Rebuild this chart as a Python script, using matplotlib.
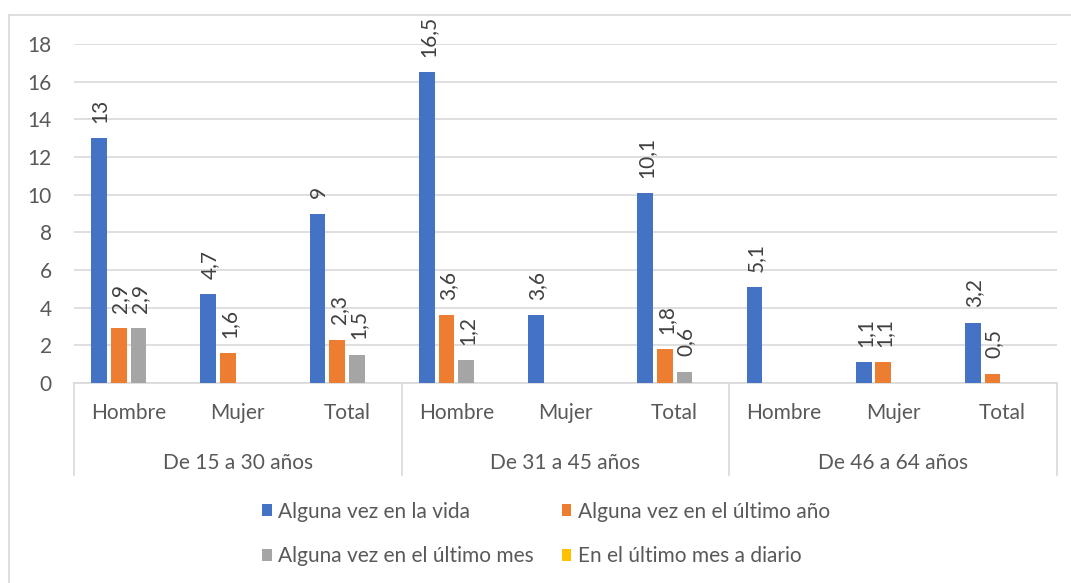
import matplotlib.pyplot as plt
import matplotlib.transforms as mtransforms
from matplotlib.lines import Line2D
import numpy as np

plt.rcParams['font.family'] = ['Lato', 'DejaVu Sans']

# data
categorias = ['Hombre', 'Mujer', 'Total'] * 3
grupos = ['De 15 a 30 años', 'De 31 a 45 años', 'De 46 a 64 años']
series = ['Alguna vez en la vida', 'Alguna vez en el último año',
          'Alguna vez en el último mes', 'En el último mes a diario']
vida = [13, 4.7, 9, 16.5, 3.6, 10.1, 5.1, 1.1, 3.2]
ultimo_anio = [2.9, 1.6, 2.3, 3.6, np.nan, 1.8, np.nan, 1.1, 0.5]
ultimo_mes = [2.9, np.nan, 1.5, 1.2, np.nan, 0.6, np.nan, np.nan, np.nan]
diario = [np.nan] * 9
colores = ['#4472C4', '#ED7D31', '#A5A5A5', '#FFC000']

W, H = 1071, 583
FS = 15
fig = plt.figure(figsize=(W / 100, H / 100), dpi=100)
ax = fig.add_axes([74 / W, 1 - 383 / H, (1057 - 74) / W, (383 - 44) / H])

x = np.arange(len(categorias))
slot, ancho = 0.18, 0.145
handles = []
for i, (nombre, vals, col) in enumerate(zip(series, [vida, ultimo_anio, ultimo_mes, diario], colores)):
    pos = x + (i - 1.5) * slot
    b = ax.bar(pos, vals, width=ancho, color=col, label=nombre, zorder=3)
    handles.append(b)
    for xp, v in zip(pos, vals):
        if np.isnan(v):
            continue
        txt = ('%g' % v).replace('.', ',')
        ax.annotate(txt, (xp, v), xytext=(1, 11), textcoords='offset points',
                    rotation=90, ha='center', va='bottom', fontsize=FS,
                    color='#404040', annotation_clip=False)

ax.set_xlim(-0.5, 8.5)
ax.set_ylim(0, 18)
ax.set_yticks(range(0, 19, 2))
ax.tick_params(axis='y', length=0, pad=16, labelsize=FS, labelcolor='#595959')
ax.set_xticks([])
ax.grid(axis='y', color='#d9d9d9', linewidth=1.2, zorder=0)
for s in ['top', 'right', 'left']:
    ax.spines[s].set_visible(False)
ax.spines['bottom'].set_color('#d9d9d9')
ax.spines['bottom'].set_linewidth(1.2)

# multi-level category axis
trans = mtransforms.blended_transform_factory(ax.transData, ax.transAxes)
h_ax = 383 - 44
for xi, cat in zip(x, categorias):
    ax.text(xi, -30 / h_ax, cat, transform=trans, ha='center', va='center',
            fontsize=FS, color='#595959')
for g, nombre in enumerate(grupos):
    ax.text(3 * g + 1, -80 / h_ax, nombre, transform=trans, ha='center',
            va='center', fontsize=FS, color='#595959')
for xs in [-0.5, 2.5, 5.5, 8.5]:
    ax.add_line(Line2D([xs, xs], [0, -92 / h_ax], transform=trans,
                       color='#d9d9d9', linewidth=1.2, clip_on=False))

# legend (row order as in the original)
orden = [0, 2, 1, 3]
fig.legend([handles[k] for k in orden], [series[k] for k in orden], ncol=2,
           loc='center', bbox_to_anchor=(546 / W, 1 - 534 / H), frameon=False,
           fontsize=FS, labelcolor='#595959', handlelength=0.45, handleheight=0.45,
           handletextpad=0.3, columnspacing=1.35, labelspacing=1.2)

# chart border
fig.add_artist(Line2D([9 / W, 9 / W], [0, 1 - 15 / H], transform=fig.transFigure,
                      color='#d9d9d9', linewidth=1.2))
fig.add_artist(Line2D([9 / W, 1], [1 - 15 / H, 1 - 15 / H], transform=fig.transFigure,
                      color='#d9d9d9', linewidth=1.2))

fig.savefig('out.png', dpi=100)
